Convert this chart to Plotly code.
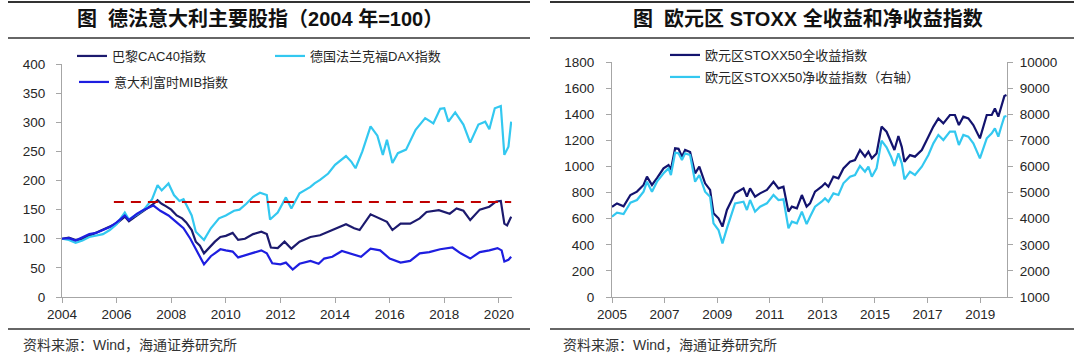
import plotly.graph_objects as go

W, H = 1080, 359

# ---------------- Left panel data (2004 = 100) ----------------
cac_years = [2004.0, 2004.25, 2004.5, 2004.75, 2005.0, 2005.25, 2005.5, 2005.75, 2006.0, 2006.3,
             2006.45, 2006.75, 2007.0, 2007.3, 2007.5, 2007.65, 2007.8, 2008.0, 2008.2, 2008.4,
             2008.55, 2008.75, 2008.9, 2009.05, 2009.2, 2009.4, 2009.6, 2009.8, 2010.0, 2010.25,
             2010.45, 2010.7, 2011.0, 2011.3, 2011.5, 2011.65, 2011.9, 2012.15, 2012.4, 2012.7,
             2013.1, 2013.45, 2013.9, 2014.4, 2014.7, 2014.9, 2015.3, 2015.65, 2015.9, 2016.1,
             2016.4, 2016.75, 2017.1, 2017.35, 2017.8, 2018.2, 2018.45, 2018.7, 2018.95, 2019.3,
             2019.65, 2019.9, 2020.07, 2020.2, 2020.3, 2020.45]
cac_vals = [100, 102, 98, 99, 105, 110, 115, 120, 126, 138,
            130, 140, 148, 158, 166, 160, 156, 150, 140, 135,
            128, 115, 95, 88, 75, 85, 95, 103, 105, 110,
            98, 100, 108, 112, 108, 85, 84, 95, 83, 95,
            103, 106, 115, 125, 118, 115, 142, 135, 129, 115,
            126, 126, 135, 146, 149, 143, 152, 148, 132, 150,
            155, 164, 165, 126, 123, 138]

dax_years = [2004.0, 2004.25, 2004.5, 2004.75, 2005.0, 2005.25, 2005.5, 2005.75, 2006.0, 2006.3,
             2006.45, 2006.75, 2007.0, 2007.3, 2007.5, 2007.65, 2007.9, 2008.1, 2008.3, 2008.45,
             2008.75, 2008.9, 2009.2, 2009.45, 2009.75, 2010.0, 2010.3, 2010.5, 2010.75, 2011.0,
             2011.25, 2011.5, 2011.62, 2011.9, 2012.2, 2012.4, 2012.7, 2013.1, 2013.25, 2013.45,
             2013.75, 2014.0, 2014.4, 2014.6, 2014.75, 2015.0, 2015.3, 2015.55, 2015.75, 2015.9,
             2016.1, 2016.3, 2016.6, 2016.95, 2017.3, 2017.6, 2017.85, 2018.0, 2018.15, 2018.4,
             2018.7, 2018.95, 2019.25, 2019.5, 2019.65, 2019.85, 2020.07, 2020.2, 2020.35, 2020.45]
dax_vals = [100, 98, 93, 97, 103, 105, 108, 115, 125, 145,
            133, 142, 150, 168, 192, 183, 195, 175, 165, 168,
            140, 112, 98, 118, 135, 140, 148, 150, 160, 172,
            179, 175, 133, 145, 171, 152, 178, 189, 195, 201,
            212, 227, 242, 232, 221, 250, 293, 277, 244, 270,
            230, 247, 253, 287, 307, 298, 323, 324, 301, 317,
            296, 265, 296, 301, 288, 324, 328, 244, 258, 301]

mib_years = [2004.0, 2004.25, 2004.5, 2004.75, 2005.0, 2005.25, 2005.5, 2005.75, 2006.0, 2006.3,
             2006.45, 2006.75, 2007.0, 2007.35, 2007.6, 2007.9, 2008.2, 2008.45, 2008.7, 2008.95,
             2009.2, 2009.45, 2009.8, 2010.0, 2010.25, 2010.45, 2010.75, 2011.0, 2011.3, 2011.5,
             2011.7, 2012.0, 2012.2, 2012.45, 2012.7, 2013.1, 2013.4, 2013.6, 2013.9, 2014.25,
             2014.55, 2014.95, 2015.3, 2015.65, 2016.0, 2016.4, 2016.75, 2017.1, 2017.45, 2017.85,
             2018.3, 2018.6, 2018.95, 2019.3, 2019.65, 2019.95, 2020.1, 2020.2, 2020.35, 2020.45]
mib_vals = [100, 101, 97, 102, 108, 110, 115, 120, 128, 140,
            132, 143, 150, 157, 148, 140, 128, 118, 100, 78,
            56, 70, 82, 80, 78, 68, 72, 76, 80, 75,
            58, 56, 59, 47, 57, 62, 57, 66, 69, 79,
            75, 69, 83, 80, 66, 59, 62, 75, 77, 82,
            85, 75, 66, 77, 80, 84, 80, 61, 64, 69]

ref_years = [2005.9, 2020.45]
ref_vals = [163, 163]

# ---------------- Right panel data ----------------
stoxx_years = [2005.0, 2005.19, 2005.44, 2005.70, 2005.95, 2006.2, 2006.33, 2006.52, 2006.71, 2006.96,
               2007.15, 2007.24, 2007.40, 2007.53, 2007.66, 2007.78, 2007.97, 2008.16, 2008.32, 2008.54,
               2008.73, 2008.86, 2009.05, 2009.20, 2009.37, 2009.68, 2010.0, 2010.13, 2010.25, 2010.44,
               2010.63, 2010.89, 2011.14, 2011.33, 2011.52, 2011.71, 2011.84, 2012.03, 2012.22, 2012.40,
               2012.53, 2012.72, 2012.97, 2013.10, 2013.23, 2013.42, 2013.61, 2013.80, 2014.05, 2014.24,
               2014.43, 2014.62, 2014.75, 2014.88, 2015.06, 2015.25, 2015.44, 2015.61, 2015.74, 2015.89,
               2016.02, 2016.12, 2016.33, 2016.52, 2016.78, 2017.03, 2017.22, 2017.41, 2017.60, 2017.85,
               2018.04, 2018.19, 2018.36, 2018.55, 2018.74, 2018.99, 2019.25, 2019.44, 2019.56, 2019.69,
               2019.82, 2019.92, 2020.0]
stoxx_full = [690, 717, 695, 781, 807, 858, 922, 858, 910, 985,
              1011, 975, 1139, 1135, 1075, 1126, 1110, 947, 998, 871,
              820, 641, 603, 539, 667, 794, 832, 769, 832, 769,
              794, 820, 883, 832, 845, 654, 692, 679, 781, 692,
              717, 807, 845, 871, 845, 922, 909, 985, 1036, 1049,
              1126, 1075, 1113, 1062, 1100, 1305, 1266, 1190, 1126, 1233,
              1148, 1036, 1087, 1075, 1126, 1228, 1305, 1368, 1330, 1394,
              1394, 1317, 1381, 1368, 1317, 1215, 1394, 1394, 1445, 1381,
              1483, 1539, 1547]
stoxx_net = [4076, 4229, 4178, 4613, 4715, 5034, 5416, 5034, 5416, 5736,
             5927, 5672, 6527, 6502, 6246, 6502, 6437, 5416, 5672, 5034,
             4842, 3822, 3566, 3055, 3630, 4587, 4651, 4331, 4715, 4268,
             4459, 4587, 4906, 4715, 4740, 3630, 3885, 3822, 4268, 3790,
             4076, 4459, 4651, 4778, 4651, 4970, 4906, 5353, 5608, 5672,
             6017, 5800, 5991, 5608, 5927, 6988, 6731, 6374, 6017, 6502,
             6118, 5506, 5800, 5672, 5991, 6437, 6885, 7205, 7013, 7333,
             7333, 6821, 7205, 7141, 6885, 6310, 7077, 7269, 7461, 7141,
             7588, 7907, 7933]

left_ticks = [2004, 2006, 2008, 2010, 2012, 2014, 2016, 2018, 2020]
right_ticks = [2005, 2007, 2009, 2011, 2013, 2015, 2017, 2019]

# ---------------- helpers ----------------
def pxx(x):
    return x / W

def pxy(y):
    return 1 - y / H

NAVY = "#1C1A6E"
CYAN = "#33C8F0"
BLUE = "#1E1EE0"
NAVY2 = "#13136E"
RED = "#C00000"
TXT = "#262626"
AX = "#A6A6A6"
FONT = "Liberation Sans, Arial, Noto Sans CJK SC, sans-serif"
CJK = "Liberation Sans, Noto Sans CJK SC, sans-serif"

fig = go.Figure()

fig.add_trace(go.Scatter(x=cac_years, y=cac_vals, mode="lines", name="巴黎CAC40指数",
                         line=dict(color=NAVY, width=2.2), xaxis="x", yaxis="y", legend="legend"))
fig.add_trace(go.Scatter(x=dax_years, y=dax_vals, mode="lines", name="德国法兰克福DAX指数",
                         line=dict(color=CYAN, width=2.2), xaxis="x", yaxis="y", legend="legend2"))
fig.add_trace(go.Scatter(x=mib_years, y=mib_vals, mode="lines", name="意大利富时MIB指数",
                         line=dict(color=BLUE, width=2.2), xaxis="x", yaxis="y", legend="legend3"))
fig.add_trace(go.Scatter(x=ref_years, y=ref_vals, mode="lines", showlegend=False,
                         line=dict(color=RED, width=2, dash="10px,7px"), xaxis="x", yaxis="y"))

fig.add_trace(go.Scatter(x=stoxx_years, y=stoxx_full, mode="lines", name="欧元区STOXX50全收益指数",
                         line=dict(color=NAVY2, width=2.2), xaxis="x2", yaxis="y2", legend="legend4"))
fig.add_trace(go.Scatter(x=stoxx_years, y=stoxx_net, mode="lines", name="欧元区STOXX50净收益指数（右轴）",
                         line=dict(color=CYAN, width=2.2), xaxis="x2", yaxis="y3", legend="legend5"))

axis_common = dict(showline=True, linecolor=AX, linewidth=1, ticks="outside", ticklen=5,
                   tickcolor=AX, showgrid=False, zeroline=False, automargin=False,
                   tickfont=dict(family=FONT, size=13.5, color=TXT))

fig.update_layout(
    width=W, height=H,
    margin=dict(l=0, r=0, t=0, b=0, autoexpand=False),
    paper_bgcolor="white", plot_bgcolor="white",
    xaxis=dict(domain=[pxx(62), pxx(512)], anchor="y", range=[2004, 2020.48],
               tickmode="array", tickvals=left_ticks, ticktext=[str(t) for t in left_ticks],
               **axis_common),
    yaxis=dict(domain=[pxy(297), pxy(64)], anchor="x", range=[0, 400], dtick=50,
               ticklabelstandoff=8, **axis_common),
    xaxis2=dict(domain=[pxx(612), pxx(1007)], anchor="y2", range=[2005, 2020.02],
                tickmode="array", tickvals=right_ticks, ticktext=[str(t) for t in right_ticks],
                **axis_common),
    yaxis2=dict(domain=[pxy(297), pxy(62)], anchor="x2", range=[0, 1800], dtick=200,
                ticklabelstandoff=9, **axis_common),
    yaxis3=dict(overlaying="y2", side="right", anchor="x2", range=[1000, 10000], dtick=1000,
                tickformat="d", ticklabelstandoff=4, **axis_common),
    showlegend=True,
)

leg_common = dict(bgcolor="rgba(0,0,0,0)", borderwidth=0, xanchor="left", yanchor="middle",
                  font=dict(family=CJK, size=13, color=TXT), itemwidth=30)
fig.update_layout(
    legend=dict(x=pxx(72), y=pxy(56), **leg_common),
    legend2=dict(x=pxx(270), y=pxy(56), **leg_common),
    legend3=dict(x=pxx(74), y=pxy(82), **leg_common),
    legend4=dict(x=pxx(665), y=pxy(55), **leg_common),
    legend5=dict(x=pxx(665), y=pxy(77), **leg_common),
)

# Titles
fig.add_annotation(x=pxx(260), y=pxy(19), xref="paper", yref="paper", showarrow=False,
                   xanchor="center", yanchor="middle",
                   text="<b>图  德法意大利主要股指（2004 年=100）</b>",
                   font=dict(family=CJK, size=20, color="#111111"))
fig.add_annotation(x=pxx(808), y=pxy(19), xref="paper", yref="paper", showarrow=False,
                   xanchor="center", yanchor="middle",
                   text="<b>图  欧元区 STOXX 全收益和净收益指数</b>",
                   font=dict(family=CJK, size=20, color="#111111"))

# Source notes
for x0 in (21, 561):
    fig.add_annotation(x=pxx(x0), y=pxy(345), xref="paper", yref="paper", showarrow=False,
                       xanchor="left", yanchor="middle", text="资料来源：Wind，海通证券研究所",
                       font=dict(family=CJK, size=14, color="#333333"))

# Rules
for (x0, x1) in ((8, 530), (550, 1074)):
    fig.add_shape(type="line", xref="paper", yref="paper", x0=pxx(x0), x1=pxx(x1), y0=pxy(2), y1=pxy(2),
                  line=dict(color="#333333", width=2))
    fig.add_shape(type="line", xref="paper", yref="paper", x0=pxx(x0), x1=pxx(x1), y0=pxy(38), y1=pxy(38),
                  line=dict(color="#333333", width=1.5))
    fig.add_shape(type="line", xref="paper", yref="paper", x0=pxx(x0), x1=pxx(x1), y0=pxy(329), y1=pxy(329),
                  line=dict(color="#333333", width=1.5))

fig.write_html("out.html", config={"displayModeBar": False},
               post_script="document.body.style.margin='0px';")
